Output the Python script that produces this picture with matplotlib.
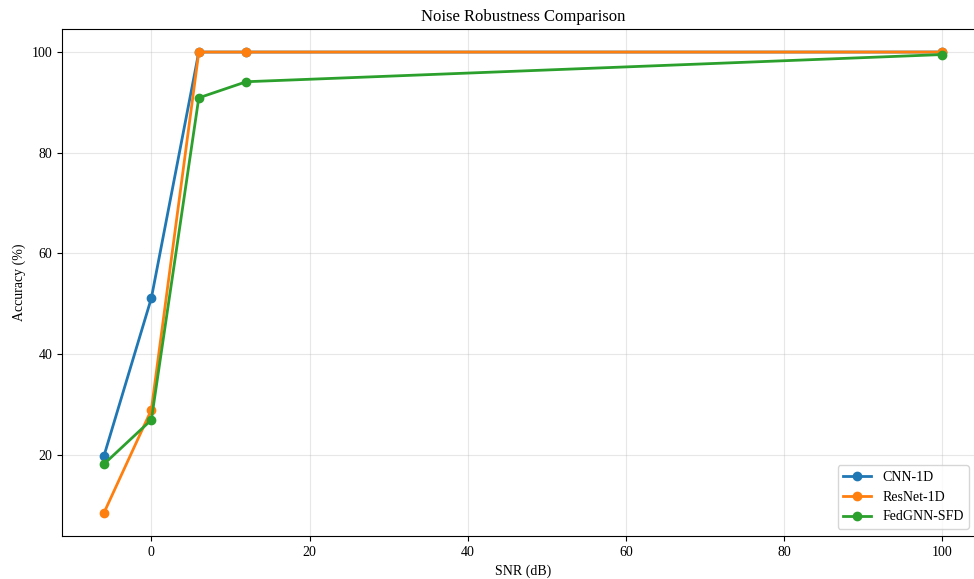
import matplotlib
matplotlib.use("Agg")
import matplotlib.pyplot as plt

plt.rcParams['font.family'] = ['Liberation Serif', 'DejaVu Serif']

snr = [-6, 0, 6, 12, 100]
cnn_1d = [19.7, 51.1, 100.0, 100.0, 100.0]
resnet_1d = [8.4, 28.9, 100.0, 100.0, 100.0]
fedgnn_sfd = [18.1, 26.9, 90.9, 94.1, 99.5]

fig = plt.figure(figsize=(9.74, 5.79), dpi=100)
ax = fig.add_axes([62/974, 1-536/579, (984-62)/974, (536-29)/579])

ax.plot(snr, cnn_1d, marker='o', linewidth=2, markersize=6, label='CNN-1D', color='#1f77b4')
ax.plot(snr, resnet_1d, marker='o', linewidth=2, markersize=6, label='ResNet-1D', color='#ff7f0e')
ax.plot(snr, fedgnn_sfd, marker='o', linewidth=2, markersize=6, label='FedGNN-SFD', color='#2ca02c')

ax.set_title('Noise Robustness Comparison', fontsize=12)
ax.set_xlabel('SNR (dB)', fontsize=10)
ax.set_ylabel('Accuracy (%)', fontsize=10)
ax.grid(True, alpha=0.3)
ax.legend(loc='lower right', bbox_to_anchor=((976-62)/922, 0), fontsize=10)

fig.savefig('out.png', dpi=100)
